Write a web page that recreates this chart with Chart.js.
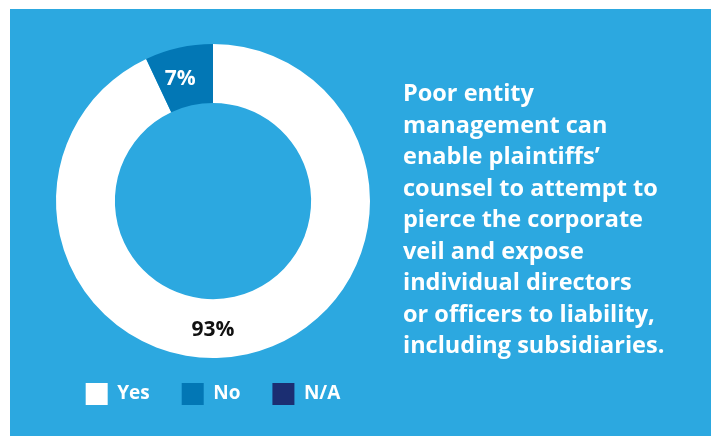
<!DOCTYPE html>
<html>
<head>
<meta charset="utf-8">
<script src="https://cdn.jsdelivr.net/npm/chart.js@4/dist/chart.umd.min.js"></script>
<style>
  html, body { margin: 0; padding: 0; background: #ffffff; }
  body { width: 717px; height: 436px; position: relative; overflow: hidden; font-family: "Open Sans", sans-serif; }
  #panel { position: absolute; left: 10px; top: 9px; width: 701px; height: 427px; background: #2ca8e0; }
  #chartBox { position: absolute; left: 10px; top: 40px; width: 406px; height: 375px; }
  #note { position: absolute; left: 403px; top: 77px; width: 308px; color: #ffffff; font-weight: 700; font-size: 23.5px; line-height: 31.5px; white-space: nowrap; }
</style>
</head>
<body>
<div id="panel"></div>
<div id="chartBox"><canvas id="c"></canvas></div>
<div id="note">Poor entity<br>management can<br>enable plaintiffs’<br>counsel to attempt to<br>pierce the corporate<br>veil and expose<br>individual directors<br>or officers to liability,<br>including subsidiaries.</div>
<script>
const categories = ["Yes", "No", "N/A"];
const values = [93, 7, 0];
const valueLabels = ["93%", "7%", ""];
const colors = ["#ffffff", "#0277b5", "#1b2e72"];
const labelColors = ["#111111", "#ffffff", "#ffffff"];

const sliceLabels = {
  id: "sliceLabels",
  afterDatasetsDraw(chart) {
    const ctx = chart.ctx;
    const meta = chart.getDatasetMeta(0);
    ctx.save();
    ctx.font = "700 21px 'Open Sans'";
    ctx.textAlign = "center";
    ctx.textBaseline = "middle";
    meta.data.forEach((arc, i) => {
      if (!values[i]) return;
      const p = arc.getProps(["x", "y", "startAngle", "endAngle", "innerRadius", "outerRadius"], true);
      const r = (p.innerRadius + p.outerRadius) / 2;
      let a = (p.startAngle + p.endAngle) / 2;
      if (values[i] > 50) a = Math.PI / 2; // large slice label sits at the bottom of the ring
      else a -= 0.04;
      ctx.fillStyle = labelColors[i];
      ctx.fillText(valueLabels[i], p.x + Math.cos(a) * r, p.y + Math.sin(a) * r + 1);
    });
    ctx.restore();
  }
};

new Chart(document.getElementById("c"), {
  type: "doughnut",
  data: {
    labels: categories,
    datasets: [{ data: values, backgroundColor: colors, borderWidth: 0, hoverOffset: 0, clip: false }]
  },
  options: {
    responsive: true,
    maintainAspectRatio: false,
    animation: false,
    radius: 157,
    cutout: "62.5%",
    layout: { padding: { top: 11, bottom: 0, left: 0, right: 0 } },
    plugins: {
      tooltip: { enabled: false },
      legend: {
        position: "bottom",
        labels: {
          color: "#ffffff",
          boxWidth: 22,
          boxHeight: 22,
          padding: 32,
          font: { family: "'Open Sans'", size: 19, weight: "700" },
          generateLabels(chart) {
            return categories.map((c, i) => ({
              text: c, fillStyle: colors[i], strokeStyle: colors[i], lineWidth: 0,
              fontColor: "#ffffff", hidden: false, index: i
            }));
          }
        }
      }
    }
  },
  plugins: [sliceLabels]
});
</script>
</body>
</html>
